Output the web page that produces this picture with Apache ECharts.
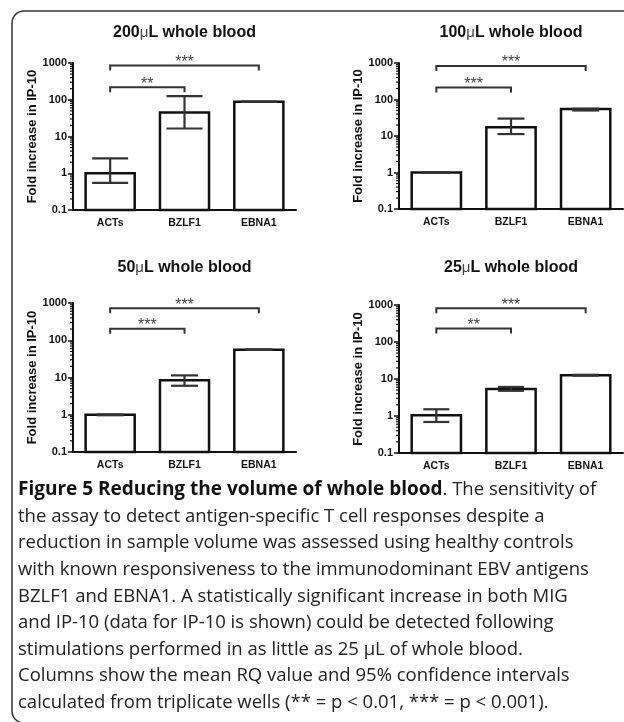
<!DOCTYPE html>
<html><head><meta charset="utf-8">
<script src="https://cdn.jsdelivr.net/npm/echarts@6/dist/echarts.min.js"></script>
<style>html,body{margin:0;padding:0;background:#fff}#c{width:624px;height:722px}</style>
</head><body><div id="c"></div>
<script>
// ---------------- data ----------------
const CATEGORIES = ['ACTs', 'BZLF1', 'EBNA1'];
const Y_TICK_LABELS = ['0.1', '1', '10', '100', '1000'];
const Y_MINOR_TICKS = [0.2, 0.3, 0.4, 0.5, 0.6, 0.7, 0.8, 0.9,
  2, 3, 4, 5, 6, 7, 8, 9, 20, 30, 40, 50, 60, 70, 80, 90,
  200, 300, 400, 500, 600, 700, 800, 900];
const PANEL_TITLES = ['200\u03bcL whole blood', '100\u03bcL whole blood', '50\u03bcL whole blood', '25\u03bcL whole blood'];
const Y_AXIS_NAME = 'Fold increase in IP-10';

const MEAN_200 = [1.0, 45, 88];
const LOW_200 = [0.55, 16.5, 87];
const HIGH_200 = [2.55, 125, 89];
const SIG_200 = [[0, 2, 850], [0, 1, 218]];
const SIG_LABELS_200 = ['***', '**'];

const MEAN_100 = [1.0, 17.3, 54.5];
const LOW_100 = [0.98, 11.3, 50];
const HIGH_100 = [1.02, 30, 56];
const SIG_100 = [[0, 2, 830], [0, 1, 213]];
const SIG_LABELS_100 = ['***', '***'];

const MEAN_50 = [1.0, 8.4, 56];
const LOW_50 = [0.97, 6.0, 55];
const HIGH_50 = [1.02, 11.4, 57];
const SIG_50 = [[0, 2, 720], [0, 1, 205]];
const SIG_LABELS_50 = ['***', '***'];

const MEAN_25 = [1.05, 5.4, 12.7];
const LOW_25 = [0.69, 4.8, 12.3];
const HIGH_25 = [1.52, 6.1, 13.0];
const SIG_25 = [[0, 2, 814], [0, 1, 233]];
const SIG_LABELS_25 = ['***', '**'];

const CAPTION_BOLD = 'Figure 5 Reducing the volume of whole blood';
const CAPTION_LINES = [
  '. The sensitivity of',
  'the assay to detect antigen-specific T cell responses despite a',
  'reduction in sample volume was assessed using healthy controls',
  'with known responsiveness to the immunodominant EBV antigens',
  'BZLF1 and EBNA1. A statistically significant increase in both MIG',
  'and IP-10 (data for IP-10 is shown) could be detected following',
  'stimulations performed in as little as 25 \u03bcL of whole blood.',
  'Columns show the mean RQ value and 95% confidence intervals',
  'calculated from triplicate wells (** = p < 0.01, *** = p < 0.001).'
];

// ---------------- layout / style ----------------
const PANELS = [
  {title: PANEL_TITLES[0], mean: MEAN_200, low: LOW_200, high: HIGH_200, sig: SIG_200, sigLabels: SIG_LABELS_200,
   grid: {left: 73, top: 63, width: 223, height: 147}, titleY: 33, capW: 36},
  {title: PANEL_TITLES[1], mean: MEAN_100, low: LOW_100, high: HIGH_100, sig: SIG_100, sigLabels: SIG_LABELS_100,
   grid: {left: 399, top: 63, width: 224, height: 146}, titleY: 33, capW: 27},
  {title: PANEL_TITLES[2], mean: MEAN_50, low: LOW_50, high: HIGH_50, sig: SIG_50, sigLabels: SIG_LABELS_50,
   grid: {left: 73, top: 303, width: 223, height: 149}, titleY: 268, capW: 27},
  {title: PANEL_TITLES[3], mean: MEAN_25, low: LOW_25, high: HIGH_25, sig: SIG_25, sigLabels: SIG_LABELS_25,
   grid: {left: 399, top: 305, width: 224, height: 148}, titleY: 268, capW: 26}
];
const AX = '#111';
const FONT = '"Liberation Sans", Arial, sans-serif';
const Y_MIN = 0.1, Y_MAX = 1000;

const grids = [], xAxes = [], yAxes = [], series = [], graphics = [];

PANELS.forEach((p, i) => {
  grids.push(Object.assign({containLabel: false}, p.grid));
  xAxes.push({
    type: 'category', gridIndex: i, data: CATEGORIES,
    axisLine: {onZero: false, lineStyle: {color: AX, width: 2}},
    axisTick: {alignWithLabel: true, length: 4, lineStyle: {color: AX, width: 1.5}},
    axisLabel: {color: '#111', fontWeight: 'bold', fontSize: 10.5, fontFamily: FONT, margin: 8}
  });
  yAxes.push({
    type: 'log', logBase: 10, min: Y_MIN, max: Y_MAX, gridIndex: i,
    name: Y_AXIS_NAME, nameLocation: 'middle', nameRotate: 90, nameGap: 34,
    nameTextStyle: {color: '#111', fontWeight: 'bold', fontSize: 13, fontFamily: FONT},
    splitLine: {show: false},
    axisLine: {show: true, lineStyle: {color: AX, width: 2}},
    axisTick: {show: true, length: 5, lineStyle: {color: AX, width: 1.5}},
    axisLabel: {color: '#111', fontWeight: 'bold', fontSize: 11, fontFamily: FONT, margin: 6,
      formatter: v => {
        let best = Y_TICK_LABELS[0];
        Y_TICK_LABELS.forEach(t => { if (Math.abs(Math.log10(+t) - Math.log10(v)) < Math.abs(Math.log10(+best) - Math.log10(v))) best = t; });
        return best;
      }}
  });
  // bars (drawn from the axis minimum up to the mean)
  series.push({
    type: 'custom', xAxisIndex: i, yAxisIndex: i, z: 2, silent: true,
    encode: {x: 0, y: 1},
    data: p.mean.map((v, k) => [k, v]),
    renderItem: (params, api) => {
      const c = api.value(0);
      const top = api.coord([c, api.value(1)]);
      const base = api.coord([c, Y_MIN]);
      const w = api.size([1, 0])[0] * 0.66;
      return {type: 'rect', shape: {x: top[0] - w / 2, y: top[1], width: w, height: base[1] - top[1]},
        style: {fill: '#fff', stroke: AX, lineWidth: 2.5}};
    }
  });
  // error bars
  const capW = p.capW;
  series.push({
    type: 'custom', xAxisIndex: i, yAxisIndex: i, z: 3, silent: true,
    encode: {x: 0, y: [1, 2]},
    data: CATEGORIES.map((c, k) => [k, p.low[k], p.high[k]]),
    renderItem: (params, api) => {
      const c = api.value(0);
      const lo = api.coord([c, api.value(1)]);
      const hi = api.coord([c, api.value(2)]);
      const x = lo[0];
      const st = {stroke: '#333', lineWidth: 2.2};
      return {type: 'group', children: [
        {type: 'line', shape: {x1: x, y1: lo[1], x2: x, y2: hi[1]}, style: st},
        {type: 'line', shape: {x1: x - capW / 2, y1: hi[1], x2: x + capW / 2, y2: hi[1]}, style: st},
        {type: 'line', shape: {x1: x - capW / 2, y1: lo[1], x2: x + capW / 2, y2: lo[1]}, style: st}
      ]};
    }
  });
  // minor log ticks
  series.push({
    type: 'custom', xAxisIndex: i, yAxisIndex: i, z: 4, silent: true, clip: false,
    encode: {x: 0, y: 1},
    data: Y_MINOR_TICKS.map(v => [0, v]),
    renderItem: (params, api) => {
      const pt = api.coord([0, api.value(1)]);
      const x0 = params.coordSys.x;
      return {type: 'line', shape: {x1: x0 - 3, y1: pt[1], x2: x0, y2: pt[1]}, style: {stroke: AX, lineWidth: 1.2}};
    }
  });
  // significance brackets
  const labels = p.sigLabels;
  series.push({
    type: 'custom', xAxisIndex: i, yAxisIndex: i, z: 4, silent: true, clip: false,
    encode: {x: 0, y: 2},
    data: p.sig,
    renderItem: (params, api) => {
      const a = api.coord([api.value(0), api.value(2)]);
      const b = api.coord([api.value(1), api.value(2)]);
      const y = a[1];
      return {type: 'group', children: [
        {type: 'polyline', shape: {points: [[a[0], y + 5], [a[0], y], [b[0], y], [b[0], y + 5]]},
         style: {stroke: '#333', lineWidth: 2, fill: null}},
        {type: 'text', style: {text: labels[params.dataIndex], x: (a[0] + b[0]) / 2, y: y + 5,
          align: 'center', verticalAlign: 'bottom', font: '16px ' + FONT, fill: '#444'}}
      ]};
    }
  });
  // title
  const parts = p.title.split('\u03bc');
  graphics.push({
    type: 'text', x: p.grid.left + p.grid.width / 2, y: p.titleY,
    style: {text: '{b|' + parts[0] + '}{m|\u03bc}{b|' + parts[1] + '}', align: 'center', verticalAlign: 'middle',
      rich: {b: {font: 'bold 16px ' + FONT, fill: '#111'}, m: {font: '15px ' + FONT, fill: '#444'}}}
  });
});

// frame
graphics.push({type: 'rect', shape: {x: 12, y: 11, width: 660, height: 712, r: 12},
  style: {fill: null, stroke: '#333', lineWidth: 1.5}, z: 0});

// caption
const CAP_FONT = '"Open Sans", "Noto Sans", sans-serif';
CAPTION_LINES.forEach((line, k) => {
  const text = k === 0 ? '{b|' + CAPTION_BOLD + '}{n|' + line + '}' : '{n|' + line + '}';
  graphics.push({
    type: 'text', x: 18, y: 490 + 26.6 * k,
    style: {text, align: 'left', verticalAlign: 'middle',
      rich: {b: {font: 'bold 19px ' + CAP_FONT, fill: '#111'}, n: {font: '18.5px ' + CAP_FONT, fill: '#222'}}}
  });
});

const chart = echarts.init(document.getElementById('c'), null, {renderer: 'canvas'});
chart.setOption({
  animation: false, backgroundColor: '#fff',
  grid: grids, xAxis: xAxes, yAxis: yAxes, series, graphic: graphics
});
</script></body></html>
